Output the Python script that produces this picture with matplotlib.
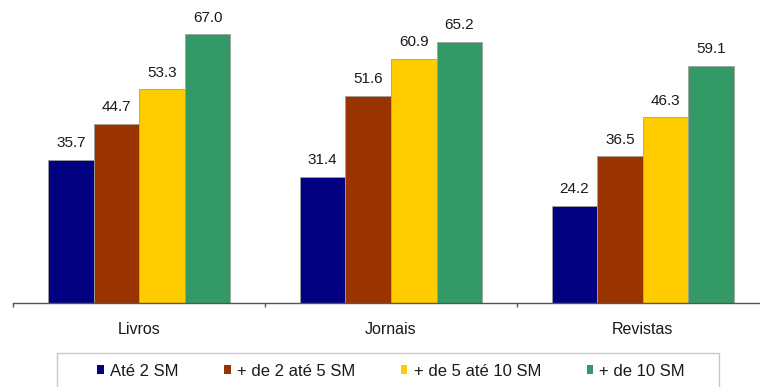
import numpy as np
import matplotlib.pyplot as plt
from matplotlib.patches import Patch, Rectangle

plt.rcParams['font.family'] = ['Liberation Sans', 'DejaVu Sans']

categorias = ["Livros", "Jornais", "Revistas"]
faixas = ["Até 2 SM", "+ de 2 até 5 SM", "+ de 5 até 10 SM", "+ de 10 SM"]
ate_2 = [35.7, 31.4, 24.2]
de_2_a_5 = [44.7, 51.6, 36.5]
de_5_a_10 = [53.3, 60.9, 46.3]
mais_10 = [67.0, 65.2, 59.1]
cores = ["#000080", "#993300", "#FFCC00", "#339966"]

def main():
    fig = plt.figure(figsize=(7.6, 3.87), dpi=100)
    # eixo um pouco mais largo que a figura, como no original (corte à direita)
    ax = fig.add_axes([13.5/760, 84.5/387, 755/760, 302.5/387])

    x = np.arange(len(categorias))
    w = 0.181
    series = [ate_2, de_2_a_5, de_5_a_10, mais_10]
    for i, vals in enumerate(series):
        pos = x + (i - 1.5)*w
        bars = ax.bar(pos, vals, w, color=cores[i], edgecolor="#a0a0a0", linewidth=0.6)
        for b, v in zip(bars, vals):
            ax.annotate(f"{v:.1f}", (b.get_x() + b.get_width()/2, v),
                        xytext=(0, 7), textcoords="offset points",
                        ha="center", va="bottom", fontsize=11, color="#1a1a1a")

    ax.set_xlim(-0.5, 2.5)
    ax.set_ylim(0, 75.6)
    for s in ["top", "right", "left"]:
        ax.spines[s].set_visible(False)
    ax.spines["bottom"].set_color("#555555")
    ax.spines["bottom"].set_linewidth(1)
    ax.set_yticks([])
    ax.set_xticks(x)
    ax.set_xticklabels(categorias, fontsize=11.5, color="#1a1a1a")
    ax.tick_params(axis="x", which="major", length=0, pad=14)
    ax.set_xticks([-0.5, 0.5, 1.5, 2.5], minor=True)
    ax.tick_params(axis="x", which="minor", length=3, width=1, color="#555555")

    # moldura da legenda (a parte de baixo fica cortada)
    fig.patches.append(Rectangle((56.7/760, -0.05), 662/760, 0.05 + 1 - 353/387,
                                 transform=fig.transFigure, fill=False,
                                 edgecolor="#c8c8c8", linewidth=1))
    handles = [Patch(facecolor=c, edgecolor="none") for c in cores]
    fig.legend(handles, faixas, loc="center", bbox_to_anchor=(391/760, 1 - 371/387),
               ncol=4, frameon=False, fontsize=12, handlelength=0.4, handleheight=0.47,
               handletextpad=0.37, columnspacing=2.74, labelcolor="#1a1a1a")

    fig.savefig("out.png", dpi=100)

if __name__ == "__main__":
    main()
